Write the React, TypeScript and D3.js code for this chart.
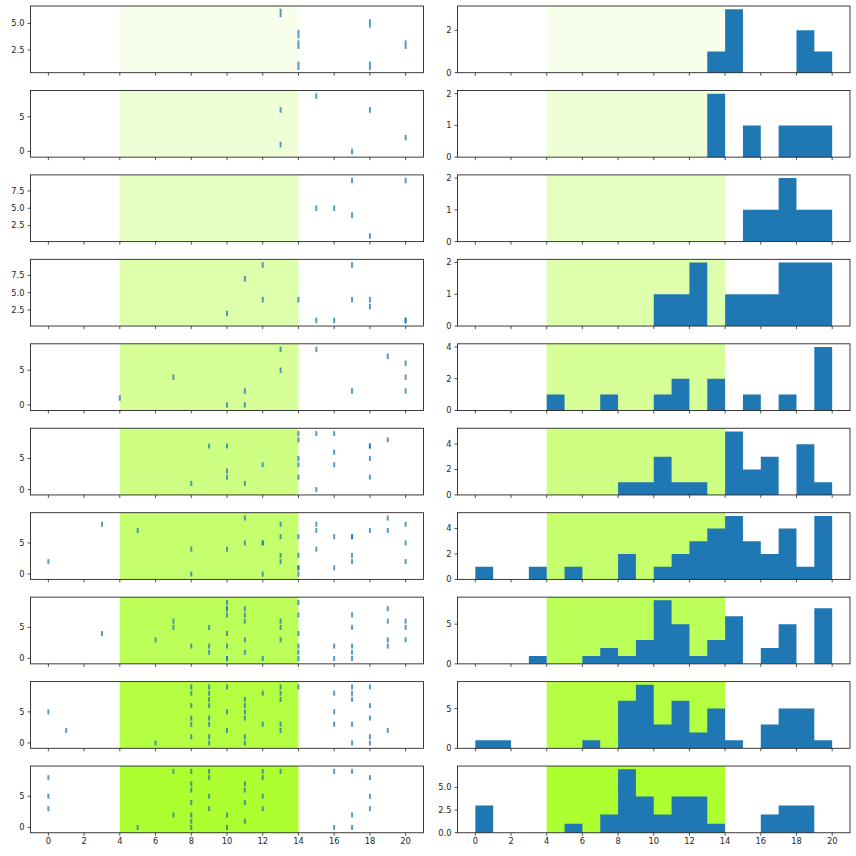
import React from 'react';
import * as d3 from 'd3';

type P = [number, number];

// spike events per panel row: [time, unit]
const row1: P[] = [[13,6],[14,4],[14,3],[14,1],[18,5],[18,1],[20,3]];
const row2: P[] = [[13,6],[13,1],[15,8],[17,0],[18,6],[20,2]];
const row3: P[] = [[15,5],[16,5],[17,9],[17,4],[18,1],[20,9]];
const row4: P[] = [[10,2],[11,7],[12,9],[12,4],[14,4],[15,1],[16,1],[17,9],[17,4],[18,4],[18,3],[20,1],[20,1]];
const row5: P[] = [[4,1],[7,4],[10,0],[11,2],[11,0],[13,8],[13,5],[15,8],[17,2],[19,7],[20,6],[20,4],[20,2]];
const row6: P[] = [[8,1],[9,7],[10,7],[10,3],[10,2],[11,1],[12,4],[14,9],[14,8],[14,5],[14,4],[14,2],[15,9],[15,0],[16,9],[16,6],[16,4],[18,7],[18,7],[18,5],[18,2],[19,8]];
const row7: P[] = [[0,2],[3,8],[5,7],[8,4],[8,0],[10,4],[11,9],[11,5],[12,5],[12,5],[12,0],[13,8],[13,6],[13,3],[13,2],[14,6],[14,3],[14,1],[14,1],[14,0],[15,8],[15,7],[15,4],[16,6],[16,1],[17,6],[17,6],[17,3],[17,2],[18,7],[19,9],[19,7],[20,8],[20,5],[20,2]];
const row8: P[] = [[3,4],[6,3],[7,6],[7,5],[8,2],[9,5],[9,2],[9,1],[10,9],[10,8],[10,8],[10,7],[10,4],[10,2],[10,0],[10,0],[11,8],[11,7],[11,6],[11,3],[11,1],[12,0],[13,6],[13,5],[13,3],[14,9],[14,7],[14,4],[14,2],[14,1],[14,0],[16,2],[16,0],[17,7],[17,5],[17,2],[17,1],[17,0],[19,8],[19,6],[19,3],[19,2],[20,6],[20,5],[20,3]];
const row9: P[] = [[0,5],[1,2],[6,0],[8,9],[8,8],[8,6],[8,4],[8,3],[8,1],[9,9],[9,8],[9,7],[9,6],[9,4],[9,3],[9,1],[9,0],[10,9],[10,5],[10,2],[11,7],[11,6],[11,5],[11,4],[11,1],[11,0],[12,8],[12,3],[13,9],[13,8],[13,7],[13,3],[13,2],[14,9],[16,8],[16,5],[16,3],[17,9],[17,8],[17,7],[17,3],[17,0],[18,9],[18,6],[18,4],[18,1],[18,0],[19,2]];
const row10: P[] = [[0,8],[0,5],[0,3],[5,0],[7,9],[7,2],[8,9],[8,7],[8,6],[8,4],[8,2],[8,1],[8,0],[9,9],[9,8],[9,5],[9,3],[10,2],[10,0],[11,7],[11,6],[11,4],[11,1],[12,9],[12,8],[12,5],[12,3],[13,9],[16,9],[16,0],[17,9],[17,2],[17,0],[18,8],[18,5],[18,3]];

const rows: P[][] = [row1, row2, row3, row4, row5, row6, row7, row8, row9, row10];

const xTicks = [0, 2, 4, 6, 8, 10, 12, 14, 16, 18, 20];
const spanStart = 4;
const spanEnd = 14;
const binEdges = d3.range(0, 21);

const leftYTicks: string[][] = [
  ['2.5', '5.0'], ['0', '5'], ['2.5', '5.0', '7.5'], ['2.5', '5.0', '7.5'], ['0', '5'],
  ['0', '5'], ['0', '5'], ['0', '5'], ['0', '5'], ['0', '5'],
];
const histYTicks: string[][] = [
  ['0', '2'], ['0', '1', '2'], ['0', '1', '2'], ['0', '1', '2'], ['0', '2', '4'],
  ['0', '2', '4'], ['0', '2', '4'], ['0', '5'], ['0', '5'], ['0.0', '2.5', '5.0'],
];

const W = 856;
const TOP0 = 6;
const PITCH = 84.45;
const PH = 66.7;
const LX0 = 30.5, LX1 = 423.5, RX0 = 457.5, RX1 = 850;
const HALF = 0.37;
const BLUE = '#1f77b4';
const SPAN = '#adff2f';
const AX = '#262626';
const FONT = 'DejaVu Sans, sans-serif';
const FS = 8.3;

function Frame({ x0, x1, y0, y1, xs, ys, yTicks, showXLabels }: any) {
  return (
    <g>
      <rect x={x0} y={y0} width={x1 - x0} height={y1 - y0} fill="none" stroke={AX} strokeWidth={0.9} />
      {xTicks.map((t) => (
        <g key={'x' + t}>
          <line x1={xs(t)} x2={xs(t)} y1={y1} y2={y1 + 3} stroke={AX} strokeWidth={0.8} />
          {showXLabels && (
            <text x={xs(t)} y={y1 + 11.5} textAnchor="middle" fontFamily={FONT} fontSize={FS} fill={AX}>{t}</text>
          )}
        </g>
      ))}
      {yTicks.map((lab: string) => {
        const v = parseFloat(lab);
        return (
          <g key={'y' + lab}>
            <line x1={x0 - 3} x2={x0} y1={ys(v)} y2={ys(v)} stroke={AX} strokeWidth={0.8} />
            <text x={x0 - 6} y={ys(v)} dy="0.35em" textAnchor="end" fontFamily={FONT} fontSize={FS} fill={AX}>{lab}</text>
          </g>
        );
      })}
    </g>
  );
}

export default function App() {
  const xl = d3.scaleLinear().domain([-1, 21]).range([LX0, LX1]);
  const xr = d3.scaleLinear().domain([-1, 21]).range([RX0, RX1]);
  const binner = d3.bin<P, number>().value((d) => d[0]).domain([0, 20]).thresholds(binEdges.slice(1, -1));

  return (
    <svg width={W} height={W} style={{ position: 'absolute', left: 0, top: 0, background: '#fff' }}>
      <rect x={0} y={0} width={W} height={W} fill="#fff" />
      {rows.map((pts, i) => {
        const y0 = TOP0 + i * PITCH;
        const y1 = y0 + PH;
        const alpha = (i + 1) / 10;
        const ymin = d3.min(pts, (d) => d[1])! - HALF;
        const ymax = d3.max(pts, (d) => d[1])! + HALF;
        const pad = (ymax - ymin) * 0.05;
        const yl = d3.scaleLinear().domain([ymin - pad, ymax + pad]).range([y1, y0]);
        const bins = binner(pts);
        const hmax = d3.max(bins, (b) => b.length)!;
        const yr = d3.scaleLinear().domain([0, hmax * 1.05]).range([y1, y0]);
        const last = i === rows.length - 1;
        const barPath = d3.path();
        bins.filter((b) => b.length > 0).forEach((b) => {
          barPath.rect(xr(b.x0!), yr(b.length), xr(b.x1!) - xr(b.x0!), yr(0) - yr(b.length));
        });
        return (
          <g key={i}>
            {/* left: event raster */}
            <rect x={xl(spanStart)} y={y0} width={xl(spanEnd) - xl(spanStart)} height={PH} fill={SPAN} fillOpacity={alpha} />
            {pts.map((p, j) => (
              <line key={j} x1={xl(p[0])} x2={xl(p[0])} y1={yl(p[1] - 0.4)} y2={yl(p[1] + 0.4)}
                stroke={BLUE} strokeWidth={2} strokeOpacity={0.75} />
            ))}
            <Frame x0={LX0} x1={LX1} y0={y0} y1={y1} xs={xl} ys={yl} yTicks={leftYTicks[i]} showXLabels={last} />
            {/* right: histogram */}
            <rect x={xr(spanStart)} y={y0} width={xr(spanEnd) - xr(spanStart)} height={PH} fill={SPAN} fillOpacity={alpha} />
            <path d={barPath.toString()} fill={BLUE} />
            <Frame x0={RX0} x1={RX1} y0={y0} y1={y1} xs={xr} ys={yr} yTicks={histYTicks[i]} showXLabels={last} />
          </g>
        );
      })}
    </svg>
  );
}
